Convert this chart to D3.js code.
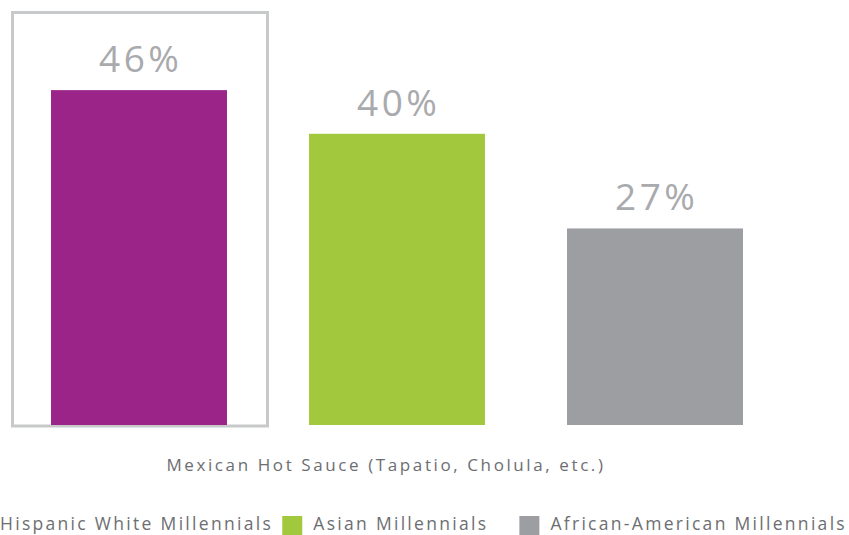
<!DOCTYPE html>
<html>
<head>
<meta charset="utf-8">
<script src="https://cdn.jsdelivr.net/npm/d3@7"></script>
<style>
  html, body { margin: 0; padding: 0; background: #fff; }
  svg { display: block; }
  text { font-family: "Open Sans", "DejaVu Sans", sans-serif; }
</style>
</head>
<body>
<svg id="chart" width="849" height="535"></svg>
<script>
// Share of millennials by group
const groups = ["Hispanic White Millennials", "Asian Millennials", "African-American Millennials"];
const values = [46, 40, 27];
const colors = ["#9b2489", "#a2c93e", "#9d9ea2"];
const category = "Mexican Hot Sauce (Tapatio, Cholula, etc.)";
const highlighted = groups[0];

const svg = d3.select("#chart");

const x = d3.scaleBand()
  .domain(groups)
  .range([10, 784])
  .paddingInner(0.318)
  .paddingOuter(0.159);

const baseline = 425;
const y = d3.scaleLinear().domain([0, 50]).range([baseline, 61]);

// highlight frame around the first group
const step = x.step();
const hx = x(highlighted) - x.paddingOuter() * step;
svg.append("rect")
  .attr("x", hx + 2.5)
  .attr("y", 12.5)
  .attr("width", step - 3)
  .attr("height", baseline - 12.5 + 1)
  .attr("fill", "none")
  .attr("stroke", "#c8c9ca")
  .attr("stroke-width", 3);

// bars
svg.append("g").selectAll("rect")
  .data(groups)
  .join("rect")
  .attr("x", d => x(d))
  .attr("y", (d, i) => y(values[i]))
  .attr("width", x.bandwidth())
  .attr("height", (d, i) => baseline - y(values[i]))
  .attr("fill", (d, i) => colors[i]);

// value labels
const valueSpacing = 3.5;
svg.append("g").selectAll("text")
  .data(groups)
  .join("text")
  .attr("x", d => x(d) + x.bandwidth() / 2 + valueSpacing / 2)
  .attr("y", (d, i) => y(values[i]) - 18)
  .attr("text-anchor", "middle")
  .attr("font-size", 37)
  .attr("letter-spacing", valueSpacing)
  .attr("fill", "#a9aaad")
  .text((d, i) => values[i] + "%");

// category label
svg.append("text")
  .attr("x", 386)
  .attr("y", 471)
  .attr("text-anchor", "middle")
  .attr("font-size", 17)
  .attr("letter-spacing", 2.6)
  .attr("fill", "#6d6e71")
  .text(category);

// legend: the first entry's swatch runs past the left edge
const legend = svg.append("g");
const items = legend.selectAll("g")
  .data(groups)
  .join("g");
items.append("rect")
  .attr("width", 20)
  .attr("height", 19)
  .attr("y", -14)
  .attr("fill", (d, i) => colors[i]);
items.append("text")
  .attr("x", 31)
  .attr("y", 0)
  .attr("font-size", 17.5)
  .attr("letter-spacing", 2.3)
  .attr("fill", "#6d6e71")
  .text(d => d);

const widths = [];
items.each(function () {
  widths.push(31 + d3.select(this).select("text").node().getComputedTextLength());
});
const gap = 31;
const xs = [-31];
xs[2] = 847 - widths[2];
xs[1] = xs[2] - gap - widths[1];
items.attr("transform", (d, i) => `translate(${xs[i]},530)`);
</script>
</body>
</html>
